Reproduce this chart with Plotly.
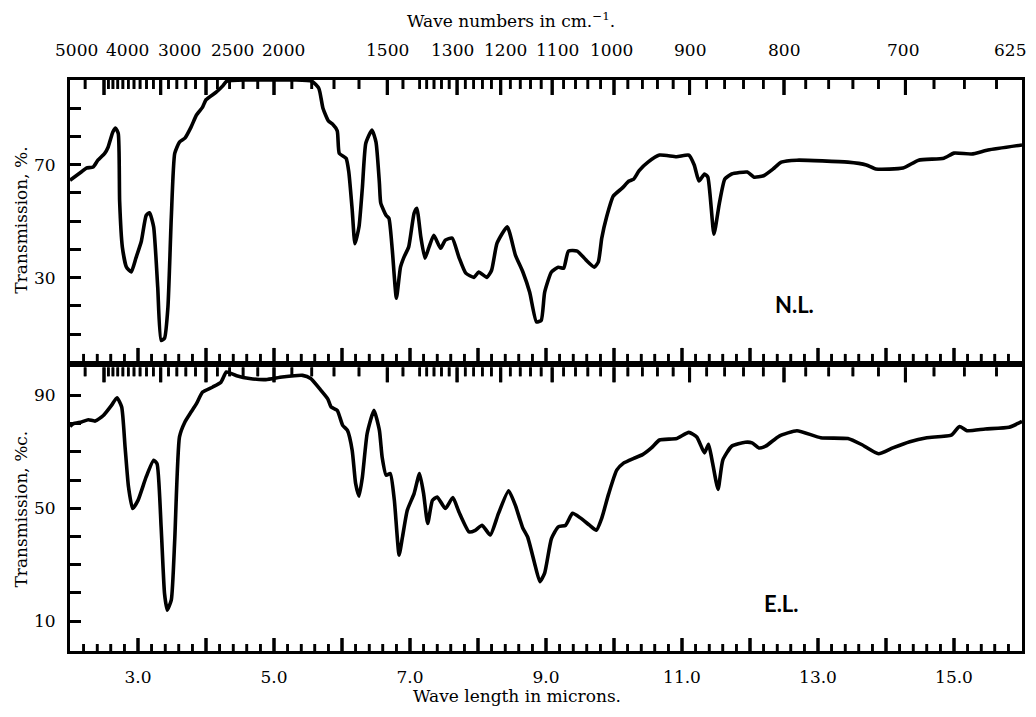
import plotly.graph_objects as go

# ---------------- data ----------------
wavelength_nl = [2.00, 2.17, 2.24, 2.34, 2.41, 2.51, 2.56, 2.63, 2.67, 2.71, 2.73, 2.77, 2.83, 2.90,
                 2.97, 3.05, 3.12, 3.17, 3.23, 3.29, 3.34, 3.39, 3.44, 3.49, 3.54, 3.61, 3.69, 3.78,
                 3.86, 3.95, 4.00, 4.15, 4.25, 4.30, 4.60, 5.00, 5.30, 5.56, 5.66, 5.72, 5.80, 5.86,
                 5.93, 5.96, 6.06, 6.10, 6.15, 6.19, 6.25, 6.30, 6.35, 6.44, 6.50, 6.55, 6.57, 6.65,
                 6.69, 6.74, 6.80, 6.86, 6.91, 6.98, 7.06, 7.10, 7.16, 7.22, 7.28, 7.35, 7.45, 7.52,
                 7.62, 7.72, 7.82, 7.94, 8.01, 8.13, 8.20, 8.28, 8.43, 8.55, 8.66, 8.76, 8.86, 8.93,
                 8.98, 9.08, 9.18, 9.26, 9.33, 9.46, 9.59, 9.71, 9.77, 9.82, 9.89, 9.99, 10.12, 10.22,
                 10.29, 10.37, 10.50, 10.67, 10.92, 11.10, 11.18, 11.25, 11.33, 11.38, 11.47, 11.55,
                 11.63, 11.73, 11.96, 12.06, 12.20, 12.34, 12.46, 12.69, 13.44, 13.71, 13.85, 14.25,
                 14.48, 14.85, 15.00, 15.26, 15.50, 16.00]
transmission_nl = [64.5, 67.5, 68.8, 69.2, 71.6, 74.0, 76.2, 81.6, 83.0, 81.0, 57.0, 40.8, 33.7, 32.0,
                   37.0, 43.0, 52.0, 53.0, 48.0, 26.6, 7.8, 8.5, 19.5, 51.5, 74.0, 78.0, 79.4, 83.3,
                   87.6, 90.4, 93.0, 95.7, 98.0, 99.5, 100.0, 100.0, 100.0, 99.5, 97.0, 90.0, 85.5, 84.4,
                   82.0, 74.0, 72.3, 67.4, 54.0, 42.0, 48.0, 62.0, 77.6, 82.3, 78.0, 63.5, 56.4, 52.0,
                   51.0, 39.7, 22.7, 33.7, 37.2, 40.8, 52.8, 54.6, 44.3, 36.9, 40.8, 45.0, 40.4, 43.3,
                   44.0, 37.2, 31.6, 30.1, 32.0, 30.1, 32.6, 42.2, 48.0, 38.0, 32.0, 24.8, 14.3, 14.9,
                   24.8, 32.0, 33.7, 33.3, 39.4, 39.4, 36.2, 33.7, 35.6, 44.0, 51.4, 58.9, 61.7, 64.2,
                   64.9, 67.9, 70.9, 73.4, 72.8, 73.4, 69.9, 64.2, 66.7, 65.6, 45.4, 56.4,
                   64.9, 66.7, 67.4, 65.6, 66.1, 68.5, 70.9, 71.6, 70.9, 69.9, 68.5, 68.8,
                   71.6, 72.3, 74.1, 73.8, 75.2, 77.0]

wavelength_el = [2.00, 2.05, 2.17, 2.27, 2.37, 2.49, 2.61, 2.69, 2.76, 2.81, 2.86, 2.92, 3.00, 3.12,
                 3.23, 3.28, 3.34, 3.39, 3.43, 3.49, 3.54, 3.61, 3.69, 3.78, 3.86, 3.95, 4.10, 4.22,
                 4.30, 4.45, 4.64, 4.88, 5.12, 5.42, 5.54, 5.67, 5.79, 5.84, 5.93, 6.01, 6.08, 6.15,
                 6.20, 6.25, 6.30, 6.37, 6.47, 6.55, 6.59, 6.65, 6.71, 6.77, 6.84, 6.89, 6.96, 7.06,
                 7.14, 7.20, 7.26, 7.33, 7.40, 7.52, 7.63, 7.72, 7.87, 7.96, 8.06, 8.18, 8.30, 8.45,
                 8.55, 8.61, 8.66, 8.73, 8.83, 8.91, 8.98, 9.08, 9.18, 9.29, 9.39, 9.51, 9.64, 9.74,
                 9.82, 9.92, 10.04, 10.14, 10.29, 10.42, 10.55, 10.67, 10.92, 11.10, 11.22, 11.33,
                 11.39, 11.45, 11.53, 11.60, 11.73, 11.93, 12.03, 12.13, 12.23, 12.43, 12.69, 13.04,
                 13.44, 13.64, 13.89, 14.10, 14.35, 14.60, 14.96, 15.08, 15.19, 15.46, 15.81, 16.00]
transmission_el = [79.0, 80.0, 80.6, 81.4, 80.9, 82.9, 86.5, 89.2, 85.9, 71.7, 57.6, 49.9, 52.8, 61.1,
                   67.0, 65.8, 43.4, 19.8, 13.9, 17.5, 38.7, 75.3, 80.6, 84.1, 87.1, 91.2, 93.0, 94.7,
                   98.3, 97.0, 96.0, 95.6, 96.5, 97.1, 96.0, 92.4, 88.8, 85.9, 84.7, 79.4, 77.6, 70.5,
                   58.8, 54.3, 61.1, 76.5, 84.7, 77.6, 68.2, 61.7, 62.3, 52.8, 33.4, 39.9, 49.3, 55.2,
                   62.3, 55.2, 44.6, 52.8, 54.0, 49.9, 53.8, 48.7, 41.6, 42.2, 44.0, 40.5, 48.1, 56.2,
                   51.0, 46.5, 42.9, 39.8, 30.7, 24.0, 27.0, 39.2, 43.4, 44.0, 48.2, 46.5, 44.0, 42.2,
                   46.5, 55.0, 63.5, 66.0, 67.7, 69.0, 71.4, 74.2, 74.7, 76.9, 75.2, 69.6,
                   72.7, 66.0, 56.7, 67.1, 72.0, 73.4, 73.2, 71.4, 72.0, 75.6, 77.5, 75.0,
                   74.7, 72.6, 69.3, 71.4, 73.6, 75.0, 75.9, 79.0, 77.5, 78.1, 78.7, 80.8]

# tick values / labels
wavelength_major = [3, 4, 5, 6, 7, 8, 9, 10, 11, 12, 13, 14, 15]
wavelength_labels = ["3.0", " ", "5.0", " ", "7.0", " ", "9.0", " ", "11.0", " ", "13.0", " ", "15.0"]
wavelength_minor = [round(2 + 0.2 * i, 1) for i in range(1, 70) if i % 5 != 0]

wavenumber_labels = [5000, 4000, 3000, 2500, 2000, 1500, 1300, 1200, 1100, 1000, 900, 800, 700, 625]
wavenumber_major = [4000, 3000, 2500, 2000, 1500, 1300, 1200, 1100, 1000, 900, 800, 700]
wavenumber_minor = ([4500] + list(range(3900, 2000, -100)) + [1900, 1800, 1700, 1600, 1450]
                    + list(range(1400, 1000, -20)) + list(range(980, 625, -20)))
wavenumber_minor = [w for w in wavenumber_minor if w not in wavenumber_major]
# horizontal pixel nudges of the printed wave-number labels (layout only)
label_nudge = [6, 23, 19, 26, 9, 0, -5, 5, 5, -3, 0, 0, -2, -12]

percent_ticks = [10, 20, 30, 40, 50, 60, 70, 80, 90]
nl_ticktext = [" ", " ", "30", " ", " ", " ", "70", " ", " "]
el_ticktext = ["10", " ", " ", " ", "50", " ", " ", " ", "90"]

# ---------------- figure ----------------
SERIF = "DejaVu Serif"
LINE = dict(color="black", width=3.6, shape="spline", smoothing=0.5)
wl_range = [2.0, 16.0]
NL_RANGE = [0.5, 100.0]
EL_RANGE = [-0.6, 100.0]
TOP_DOMAIN = [0.508, 1.0]
BOT_DOMAIN = [0.0, 0.497]
PX_PER_UNIT = 2.83  # vertical pixels per percent unit in both panels

fig = go.Figure()
fig.add_trace(go.Scatter(x=wavelength_nl, y=transmission_nl, mode="lines", line=LINE,
                         xaxis="x", yaxis="y", showlegend=False, hoverinfo="skip"))
fig.add_trace(go.Scatter(x=wavelength_el, y=transmission_el, mode="lines", line=LINE,
                         xaxis="x2", yaxis="y2", showlegend=False, hoverinfo="skip"))

# tick marks along the horizontal frame edges (inward), on the axes' own scale
shapes = []


def tick_marks(xa, ya, rng, values, at_top, length_px, width):
    base = rng[1] if at_top else rng[0]
    sign = -1 if at_top else 1
    tip = base + sign * length_px / PX_PER_UNIT
    xs, ys = [], []
    for v in values:
        xs += [v, v, None]
        ys += [base, tip, None]
        shapes.append(dict(type="line", xref=xa, yref=ya, x0=v, x1=v, y0=base, y1=tip,
                           line=dict(color="black", width=width), layer="above"))
    fig.add_trace(go.Scatter(x=xs, y=ys, mode="lines", xaxis=xa, yaxis=ya, showlegend=False,
                             hoverinfo="skip", line=dict(color="black", width=width)))


wn_major_pos = [1e4 / w for w in wavenumber_major]
wn_minor_pos = [1e4 / w for w in wavenumber_minor]
for xa, ya, rng in [("x", "y", NL_RANGE), ("x2", "y2", EL_RANGE)]:
    tick_marks(xa, ya, rng, wavelength_major, False, 13, 3.0)
    tick_marks(xa, ya, rng, wavelength_minor, False, 7, 2.6)
    tick_marks(xa, ya, rng, wn_major_pos, True, 15, 3.0)
    tick_marks(xa, ya, rng, wn_minor_pos, True, 9, 2.6)


def x_axis(anchor, labels):
    ax = dict(range=wl_range, anchor=anchor, showgrid=False, zeroline=False, showline=True,
              linewidth=3, linecolor="black", mirror=True, ticks="", fixedrange=True,
              tickmode="array", tickvals=wavelength_major, showticklabels=labels)
    if labels:
        ax["ticktext"] = wavelength_labels
        ax["ticklabelstandoff"] = 9
        ax["tickfont"] = dict(family=SERIF, size=17, color="black")
    return ax


def y_axis(domain, rng, text, anchor):
    return dict(domain=domain, range=rng, anchor=anchor, showline=True, linewidth=3,
                linecolor="black", mirror=True, showgrid=False, zeroline=False, ticks="inside",
                ticklen=11, tickwidth=2.6, tickcolor="black", tickmode="array",
                tickvals=percent_ticks, ticktext=text, ticklabelstandoff=8,
                tickfont=dict(family=SERIF, size=17, color="black"), fixedrange=True)


fig.update_layout(
    width=1036, height=717,
    margin=dict(l=70, r=11, t=80, b=66),
    paper_bgcolor="white", plot_bgcolor="white",
    font=dict(family=SERIF, size=17, color="black"),
    xaxis=x_axis("y", False),
    xaxis2=x_axis("y2", True),
    yaxis=y_axis(TOP_DOMAIN, NL_RANGE, nl_ticktext, "x"),
    yaxis2=y_axis(BOT_DOMAIN, EL_RANGE, el_ticktext, "x2"),
    shapes=shapes,
)

annotations = []
for wn, dx in zip(wavenumber_labels, label_nudge):
    annotations.append(dict(x=1e4 / wn, xref="x", y=1.0, yref="paper", text=str(wn),
                            showarrow=False, xanchor="center", yanchor="middle",
                            yshift=30, xshift=dx, font=dict(family=SERIF, size=17)))
annotations += [
    dict(x=0.463, xref="paper", y=1.0, yref="paper", text="Wave numbers in cm.<sup>−1</sup>.",
         showarrow=False, xanchor="center", yanchor="middle", yshift=60,
         font=dict(family=SERIF, size=17)),
    dict(x=0.4696, xref="paper", y=0.0, yref="paper", text="Wave length in microns.",
         showarrow=False, xanchor="center", yanchor="middle", yshift=-45,
         font=dict(family=SERIF, size=17)),
    dict(x=-0.0513, xref="paper", y=0.754, yref="paper", text="Transmission, %.",
         showarrow=False, textangle=-90, xanchor="center", yanchor="middle",
         font=dict(family=SERIF, size=17)),
    dict(x=-0.0513, xref="paper", y=0.248, yref="paper", text="Transmission, %c.",
         showarrow=False, textangle=-90, xanchor="center", yanchor="middle",
         font=dict(family=SERIF, size=17)),
    dict(x=12.66, xref="x", y=20.6, yref="y", text="<b>N.L.</b>", showarrow=False,
         font=dict(family="Lato", size=22, color="black")),
    dict(x=12.47, xref="x2", y=16.2, yref="y2", text="<b>E.L.</b>", showarrow=False,
         font=dict(family="Lato", size=22, color="black")),
]
fig.update_layout(annotations=annotations)

fig.write_html("out.html")
